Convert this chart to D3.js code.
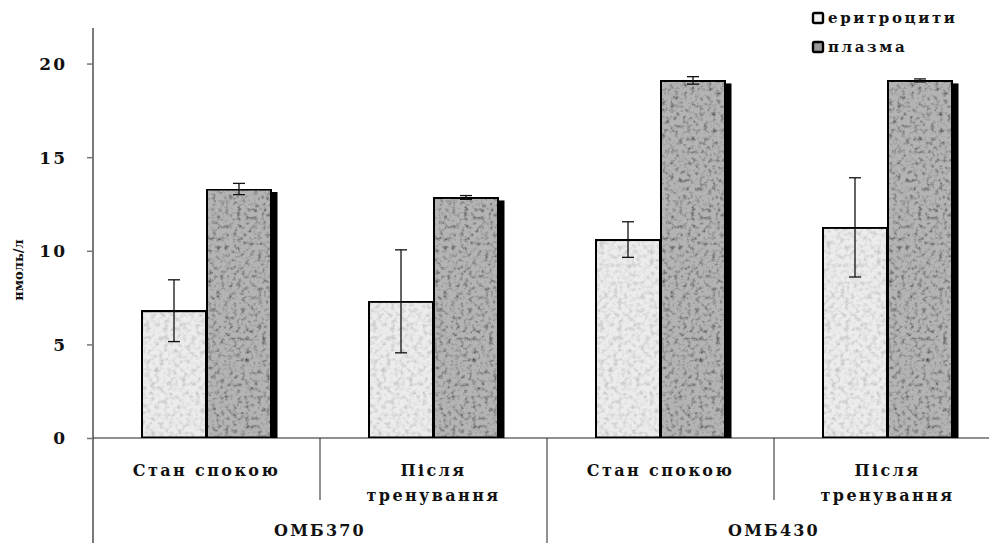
<!DOCTYPE html>
<html>
<head>
<meta charset="utf-8">
<script src="https://cdn.jsdelivr.net/npm/d3@7"></script>
<style>
  body { margin: 0; background: #fff; }
  text { font-family: "DejaVu Serif", "Liberation Serif", serif; font-weight: bold; fill: #111; }
</style>
</head>
<body>
<script>
// data
var groups     = ["ОМБ370", "ОМБ430"];
var conditions = [["Стан спокою"], ["Після", "тренування"], ["Стан спокою"], ["Після", "тренування"]];
var series     = ["еритроцити", "плазма"];
var erythro    = [6.8, 7.3, 10.6, 11.25];
var erythroErr = [1.65, 2.75, 0.95, 2.65];
var plasma     = [13.3, 12.85, 19.1, 19.1];
var plasmaErr  = [0.3, 0.1, 0.2, 0.08];
var yTicks     = [0, 5, 10, 15, 20];

var W = 989, H = 543;
var mLeft = 93, mTop = 28, base = 438, catW = 227;

var svg = d3.select("body").append("svg").attr("width", W).attr("height", H);

var defs = svg.append("defs");
function texture(id, freq, k, off, seed) {
  var f = defs.append("filter").attr("id", id).attr("x", 0).attr("y", 0).attr("width", 1).attr("height", 1);
  f.append("feTurbulence").attr("type", "fractalNoise").attr("baseFrequency", freq)
    .attr("numOctaves", 3).attr("seed", seed).attr("result", "n");
  f.append("feColorMatrix").attr("in", "n").attr("type", "matrix")
    .attr("values", "0 0 0 0 0  0 0 0 0 0  0 0 0 0 0  " + k + " 0 0 0 " + off).attr("result", "d");
  f.append("feComposite").attr("in", "d").attr("in2", "SourceGraphic").attr("operator", "in").attr("result", "t");
  var m = f.append("feMerge");
  m.append("feMergeNode").attr("in", "SourceGraphic");
  m.append("feMergeNode").attr("in", "t");
}
texture("texE", 0.22, -0.8, 0.45, 2);
texture("texP", 0.24, -1.9, 1.0, 5);

var x = d3.scaleBand().domain(d3.range(conditions.length)).range([mLeft, mLeft + catW * conditions.length]);
var xs = d3.scaleBand().domain([0, 1]).range([0, 130]);
var y = d3.scaleLinear().domain([0, 21.9]).range([base, mTop]);

// y axis
svg.append("line").attr("x1", mLeft).attr("x2", mLeft).attr("y1", mTop).attr("y2", H).attr("stroke", "#222").attr("stroke-width", 1.2);
var yg = svg.append("g").attr("transform", "translate(" + mLeft + ",0)")
  .call(d3.axisLeft(y).tickValues(yTicks).tickSize(6).tickPadding(20));
yg.select(".domain").remove();
yg.selectAll(".tick line").attr("stroke", "#777").attr("stroke-width", 1.5);
yg.selectAll(".tick text").style("font-size", "17px").style("letter-spacing", "2px")
  .style("font-family", "'DejaVu Serif', serif").attr("fill", "#111").attr("dy", "0.35em");

svg.append("text").attr("transform", "translate(23,270) rotate(-90)")
  .attr("text-anchor", "middle").style("font-size", "13px").text("нмоль/л");

// x baseline and separators
svg.append("line").attr("x1", mLeft).attr("x2", W).attr("y1", base).attr("y2", base).attr("stroke", "#222").attr("stroke-width", 1.2);
conditions.forEach(function (c, i) {
  if (i === 0) return;
  var xx = x(i);
  svg.append("line").attr("x1", xx).attr("x2", xx).attr("y1", base)
    .attr("y2", i === 2 ? H : 500).attr("stroke", "#222").attr("stroke-width", 1);
});

// bars
var rows = conditions.map(function (c, i) {
  return [{s: 0, v: erythro[i], e: erythroErr[i]}, {s: 1, v: plasma[i], e: plasmaErr[i]}];
});
var gs = svg.selectAll("g.cat").data(rows).enter().append("g")
  .attr("transform", function (d, i) { return "translate(" + (x(i) + x.bandwidth() / 2 - 65) + ",0)"; });

gs.selectAll("rect.sh").data(function (d) { return d; }).enter().append("rect")
  .attr("x", function (d) { return xs(d.s) + 6; })
  .attr("y", function (d) { return y(d.v) + 3; })
  .attr("width", xs.bandwidth())
  .attr("height", function (d) { return base - y(d.v) - 3; })
  .attr("fill", "#000");

gs.selectAll("rect.bar").data(function (d) { return d; }).enter().append("rect")
  .attr("x", function (d) { return xs(d.s); })
  .attr("y", function (d) { return y(d.v); })
  .attr("width", xs.bandwidth())
  .attr("height", function (d) { return base - y(d.v); })
  .attr("fill", function (d) { return d.s ? "#b4b4b4" : "#ececec"; })
  .attr("filter", function (d) { return d.s ? "url(#texP)" : "url(#texE)"; })
  .attr("stroke", "#000").attr("stroke-width", 3);

// error bars
var eb = gs.selectAll("g.err").data(function (d) { return d; }).enter().append("g")
  .attr("stroke", "#111").attr("stroke-width", 1.3);
eb.append("line")
  .attr("x1", function (d) { return xs(d.s) + xs.bandwidth() / 2; })
  .attr("x2", function (d) { return xs(d.s) + xs.bandwidth() / 2; })
  .attr("y1", function (d) { return y(d.v + d.e); })
  .attr("y2", function (d) { return y(d.v - d.e); });
[1, -1].forEach(function (sg) {
  eb.append("line")
    .attr("x1", function (d) { return xs(d.s) + xs.bandwidth() / 2 - 6; })
    .attr("x2", function (d) { return xs(d.s) + xs.bandwidth() / 2 + 6; })
    .attr("y1", function (d) { return y(d.v + sg * d.e); })
    .attr("y2", function (d) { return y(d.v + sg * d.e); });
});

// category labels
conditions.forEach(function (c, i) {
  var cx = x(i) + x.bandwidth() / 2;
  c.forEach(function (line, j) {
    svg.append("text").attr("x", cx).attr("y", 476 + j * 25).attr("text-anchor", "middle")
      .style("font-size", "16px").style("letter-spacing", "2.4px").text(line);
  });
});
groups.forEach(function (g, i) {
  svg.append("text").attr("x", x(i * 2 + 1)).attr("y", 536).attr("text-anchor", "middle")
    .style("font-size", "16px").style("letter-spacing", "2.2px").text(g);
});

// legend
series.forEach(function (s, i) {
  var ly = 18 + i * 29;
  svg.append("rect").attr("x", 813).attr("y", ly - 5).attr("width", 10).attr("height", 10)
    .attr("fill", i ? "#999" : "#f2f2f2").attr("stroke", "#000").attr("stroke-width", 2.4).attr("rx", 1.5);
  svg.append("text").attr("x", 828).attr("y", ly + 5).style("font-size", "15px")
    .style("letter-spacing", "2.6px").text(s);
});
</script>
</body>
</html>
